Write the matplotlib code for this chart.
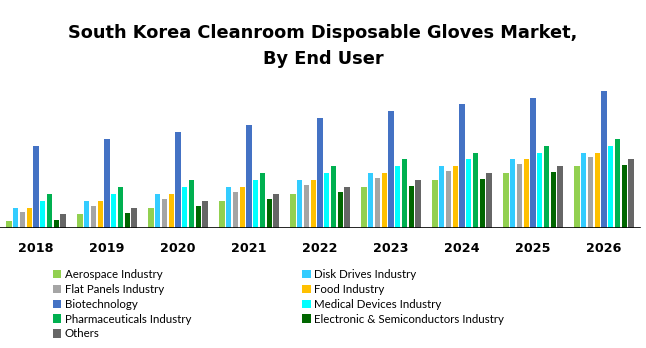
import matplotlib.pyplot as plt
from matplotlib.patches import Patch
import numpy as np

years = ['2018', '2019', '2020', '2021', '2022', '2023', '2024', '2025', '2026']
segments = ['Aerospace Industry', 'Disk Drives Industry', 'Flat Panels Industry',
            'Food Industry', 'Biotechnology', 'Medical Devices Industry',
            'Pharmaceuticals Industry', 'Electronic & Semiconductors Industry', 'Others']
colors = ['#92D050', '#33CCFF', '#A5A5A5', '#FFC000', '#4472C4',
          '#00FFFF', '#00B050', '#006600', '#666666']

# market size per end user, one list per segment (2018..2026)
aerospace = [7, 14, 20, 27, 34, 41, 48, 55, 62]
disk_drives = [20, 27, 34, 41, 48, 55, 62, 69, 75]
flat_panels = [16, 22, 29, 36, 43, 50, 57, 64, 71]
food = [20, 27, 34, 41, 48, 55, 62, 69, 75]
biotech = [82, 89, 96, 103, 110, 117, 124, 130, 137]
medical = [27, 34, 41, 48, 55, 62, 69, 75, 82]
pharma = [34, 41, 48, 55, 62, 69, 75, 82, 89]
electronic = [8, 15, 22, 29, 36, 42, 49, 56, 63]
others = [14, 20, 27, 34, 41, 48, 55, 62, 69]
series = [aerospace, disk_drives, flat_panels, food, biotech,
          medical, pharma, electronic, others]

fig = plt.figure(figsize=(6.46, 3.48), dpi=100)
ax = fig.add_axes([0, 120 / 348, 1, 148 / 348])

x = np.arange(len(years))
step = 6.75 / 71
width = 5.2 / 71
for k, (vals, col) in enumerate(zip(series, colors)):
    ax.bar(x + (k - 4) * step, vals, width=width, color=col, label=segments[k])

ax.set_xlim(-36 / 71, (646 - 36) / 71)
ax.set_ylim(0, 148)
ax.axhline(0, xmin=0, xmax=640 / 646, color='black', lw=1.2)
for s in ax.spines.values():
    s.set_visible(False)
ax.set_yticks([])
ax.set_xticks(x)
ax.set_xticklabels(years, fontsize=9.2, fontweight='bold')
ax.tick_params(axis='x', length=0, pad=10)

fig.suptitle('South Korea Cleanroom Disposable Gloves Market,\nBy End User',
             x=0.5, y=1 - 24 / 348, va='top', fontsize=12.8, fontweight='bold',
             linespacing=1.6)

# legend: two columns, filled row by row
order = [0, 2, 4, 6, 8, 1, 3, 5, 7]
handles = [Patch(facecolor=colors[i], label=segments[i]) for i in order]
fig.legend(handles=handles, ncol=2, loc='upper left',
           bbox_to_anchor=(47 / 646, 1 - 263.5 / 348), frameon=False,
           prop={'family': 'Lato', 'size': 8.3},
           handlelength=0.75, handleheight=0.75, handletextpad=0.3,
           columnspacing=9.6, labelspacing=0.33, borderpad=0)

fig.savefig('out.png', dpi=100)
